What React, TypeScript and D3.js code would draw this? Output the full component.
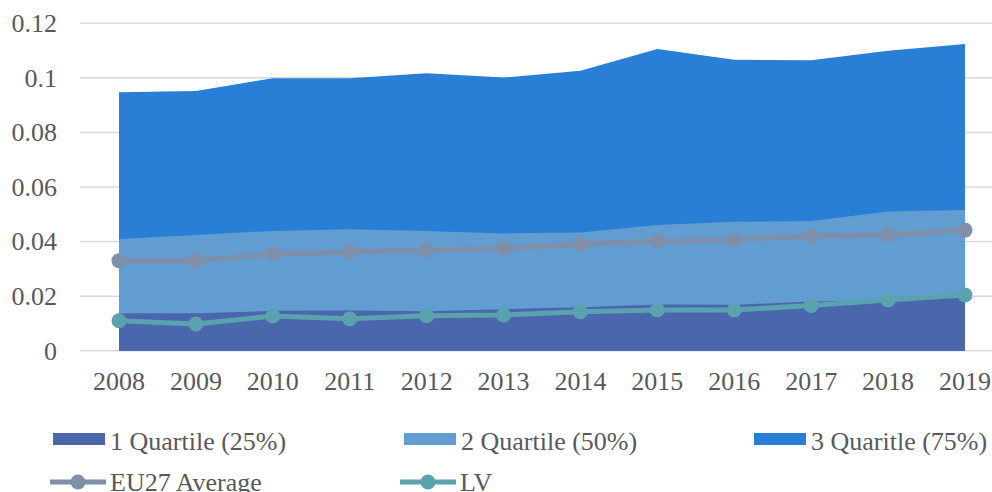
import React from "react";
import * as d3 from "d3";

const years = ["2008","2009","2010","2011","2012","2013","2014","2015","2016","2017","2018","2019"];
const quartile1 = [0.0137,0.0137,0.0146,0.0147,0.0145,0.0152,0.0159,0.0169,0.0168,0.0180,0.0186,0.0200];
const quartile2 = [0.0409,0.0424,0.0439,0.0445,0.0439,0.0430,0.0433,0.0461,0.0473,0.0475,0.0510,0.0516];
const quartile3 = [0.0947,0.0952,0.0999,0.0999,0.1017,0.1001,0.1026,0.1106,0.1066,0.1065,0.1099,0.1124];
const eu27Average = [0.0330,0.0330,0.0354,0.0362,0.0368,0.0375,0.0390,0.0402,0.0406,0.0420,0.0424,0.0442];
const lv = [0.0110,0.0098,0.0127,0.0117,0.0128,0.0131,0.0143,0.0149,0.0149,0.0166,0.0186,0.0204];
const yTicks = [0, 0.02, 0.04, 0.06, 0.08, 0.1, 0.12];

const areaSeries = [
  { name: "3 Quaritle (75%)", values: quartile3, color: "#297FD5" },
  { name: "2 Quartile (50%)", values: quartile2, color: "#629DD1" },
  { name: "1 Quartile (25%)", values: quartile1, color: "#4A66AC" },
];
const lineSeries = [
  { name: "EU27 Average", values: eu27Average, color: "#7F8FA9" },
  { name: "LV", values: lv, color: "#5AA2AE" },
];

const W = 992, H = 492;
const FONT = "Liberation Serif, Times New Roman, DejaVu Serif, serif";
const TEXT = "#595959";

export default function App() {
  const x = d3.scalePoint<string>().domain(years).range([119, 965]);
  const y = d3.scaleLinear().domain([0, 0.12]).range([350.7, 23.3]);
  const area = d3.area<number>()
    .x((_, i) => x(years[i]) as number)
    .y0(y(0))
    .y1((d) => y(d));
  const line = d3.line<number>()
    .x((_, i) => x(years[i]) as number)
    .y((d) => y(d));

  const legendRow1 = [
    { s: areaSeries[2], x: 53 },
    { s: areaSeries[1], x: 404 },
    { s: areaSeries[0], x: 754 },
  ];
  const legendRow2 = [
    { s: lineSeries[0], x: 50 },
    { s: lineSeries[1], x: 400 },
  ];

  const textStyle = { fontFamily: FONT, fontSize: 26, fill: TEXT } as React.CSSProperties;

  return (
    <svg width={W} height={H} style={{ position: "absolute", left: 0, top: 0, background: "#fff" }}>
      {yTicks.map((t) => (
        <g key={t}>
          <line x1={80} x2={W} y1={y(t)} y2={y(t)} stroke="#d9d9d9" strokeWidth={1.5} />
          <text x={57} y={y(t)} dy="0.34em" textAnchor="end" style={textStyle}>{t}</text>
        </g>
      ))}
      {areaSeries.map((s) => (
        <path key={s.name} d={area(s.values) || ""} fill={s.color} />
      ))}
      {lineSeries.map((s) => (
        <g key={s.name}>
          <path d={line(s.values) || ""} fill="none" stroke={s.color} strokeWidth={5} strokeLinejoin="round" />
          {s.values.map((v, i) => (
            <circle key={i} cx={x(years[i])} cy={y(v)} r={7.5} fill={s.color} />
          ))}
        </g>
      ))}
      {years.map((yr) => (
        <text key={yr} x={x(yr)} y={390} textAnchor="middle" style={textStyle}>{yr}</text>
      ))}
      {legendRow1.map(({ s, x: lx }) => (
        <g key={s.name}>
          <rect x={lx} y={433} width={52} height={12} fill={s.color} />
          <text x={lx + 57} y={450} style={textStyle}>{s.name}</text>
        </g>
      ))}
      {legendRow2.map(({ s, x: lx }) => (
        <g key={s.name}>
          <line x1={lx} x2={lx + 56} y1={482} y2={482} stroke={s.color} strokeWidth={5} />
          <circle cx={lx + 28} cy={482} r={7.5} fill={s.color} />
          <text x={lx + 60} y={491} style={textStyle}>{s.name}</text>
        </g>
      ))}
    </svg>
  );
}
